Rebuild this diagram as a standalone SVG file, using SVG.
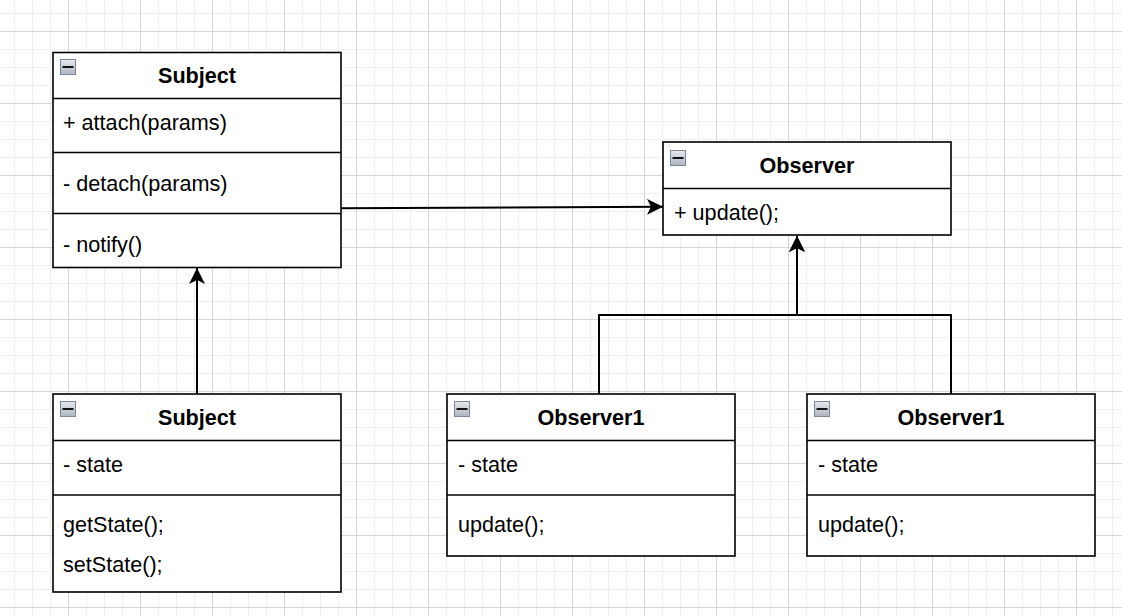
<svg xmlns="http://www.w3.org/2000/svg" width="1122" height="616" viewBox="0 0 1122 616">
<defs>
<pattern id="grid" patternUnits="userSpaceOnUse" x="-4" y="-41" width="72" height="72">
<rect x="0" y="0" width="72" height="72" fill="#ffffff"/>
<rect x="18" y="0" width="1" height="72" fill="#efefef"/>
<rect x="36" y="0" width="1" height="72" fill="#efefef"/>
<rect x="54" y="0" width="1" height="72" fill="#efefef"/>
<rect x="0" y="18" width="72" height="1" fill="#efefef"/>
<rect x="0" y="36" width="72" height="1" fill="#efefef"/>
<rect x="0" y="54" width="72" height="1" fill="#efefef"/>
<rect x="0" y="0" width="1" height="72" fill="#d6d6d6"/>
<rect x="0" y="0" width="72" height="1" fill="#d6d6d6"/>
</pattern>
<linearGradient id="ig" x1="0" y1="0" x2="0" y2="1">
<stop offset="0" stop-color="#e6e9ee"/>
<stop offset="1" stop-color="#aeb5c0"/>
</linearGradient>
<marker id="arr" viewBox="0 0 16 16" refX="16" refY="8" markerWidth="16" markerHeight="16" markerUnits="userSpaceOnUse" orient="auto">
<path d="M0,0 L16,8 L0,16 L4,8 Z" fill="#000"/>
</marker>
<g id="icon">
<rect x="0.5" y="0.5" width="15" height="15" fill="url(#ig)" stroke="#7d8796" stroke-width="1"/>
<rect x="2.5" y="7" width="11" height="2" fill="#111"/>
</g>
</defs>
<style>
.box{fill:#fff;stroke:#000;stroke-width:1.6}
.sep{stroke:#000;stroke-width:1.4;fill:none}
.title{font-family:"Liberation Sans",Arial,sans-serif;font-size:21.6px;font-weight:bold;text-anchor:middle;fill:#000}
.item{font-family:"Liberation Sans",Arial,sans-serif;font-size:21.6px;fill:#000}
.edge{stroke:#000;stroke-width:2;fill:none}
</style>
<rect x="0" y="0" width="1122" height="616" fill="url(#grid)"/>

<g id="connectors">
<path class="edge" d="M341,208.3 L663,206.8" marker-end="url(#arr)"/>
<path class="edge" d="M197,394 L197,268" marker-end="url(#arr)"/>
<path class="edge" d="M599,394 L599,315 L797,315 L797,236" marker-end="url(#arr)"/>
<path class="edge" d="M951,394 L951,315 L797,315 L797,236" marker-end="url(#arr)"/>
</g>

<g id="subject">
<rect class="box" x="53" y="52.5" width="288" height="215"/>
<path class="sep" d="M53,98.5 H341 M53,152.5 H341 M53,213.5 H341"/>
<use href="#icon" x="60" y="59"/>
<text class="title" x="197" y="83">Subject</text>
<text class="item" x="63" y="130">+ attach(params)</text>
<text class="item" x="63" y="191">- detach(params)</text>
<text class="item" x="63" y="252">- notify()</text>
</g>

<g id="observer">
<rect class="box" x="663" y="142" width="288" height="93"/>
<path class="sep" d="M663,188.5 H951"/>
<use href="#icon" x="670" y="150"/>
<text class="title" x="807" y="173">Observer</text>
<text class="item" x="674" y="220">+ update();</text>
</g>

<g id="subject2">
<rect class="box" x="53" y="394" width="288" height="198"/>
<path class="sep" d="M53,440.5 H341 M53,495 H341"/>
<use href="#icon" x="60" y="401"/>
<text class="title" x="197" y="425">Subject</text>
<text class="item" x="63" y="472">- state</text>
<text class="item" x="63" y="532">getState();</text>
<text class="item" x="63" y="572">setState();</text>
</g>

<g id="observer1a">
<rect class="box" x="447" y="394" width="288" height="162"/>
<path class="sep" d="M447,440.5 H735 M447,495 H735"/>
<use href="#icon" x="454" y="401"/>
<text class="title" x="591" y="425">Observer1</text>
<text class="item" x="458" y="472">- state</text>
<text class="item" x="458" y="532">update();</text>
</g>

<g id="observer1b">
<rect class="box" x="807" y="394" width="288" height="162"/>
<path class="sep" d="M807,440.5 H1095 M807,495 H1095"/>
<use href="#icon" x="814" y="401"/>
<text class="title" x="951" y="425">Observer1</text>
<text class="item" x="818" y="472">- state</text>
<text class="item" x="818" y="532">update();</text>
</g>
</svg>
